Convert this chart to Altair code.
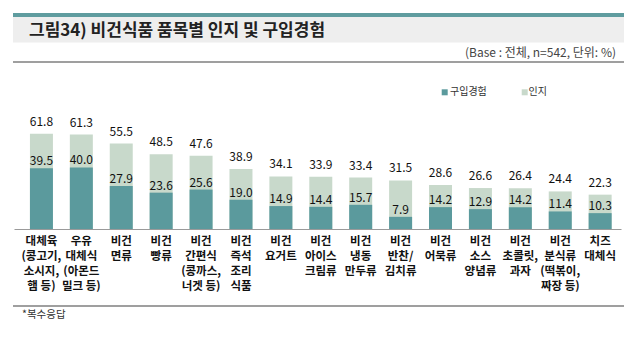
import altair as alt
import pandas as pd

categories = [
    "대체육|(콩고기,|소시지,|햄 등)",
    "우유|대체식|(아몬드|밀크 등)",
    "비건|면류",
    "비건|빵류",
    "비건|간편식|(콩까스,|너겟 등)",
    "비건|즉석|조리|식품",
    "비건|요거트",
    "비건|아이스|크림류",
    "비건|냉동|만두류",
    "비건|반찬/|김치류",
    "비건|어묵류",
    "비건|소스|양념류",
    "비건|초콜릿,|과자",
    "비건|분식류|(떡볶이,|짜장 등)",
    "치즈|대체식",
]
awareness = [61.8, 61.3, 55.5, 48.5, 47.6, 38.9, 34.1, 33.9, 33.4, 31.5, 28.6, 26.6, 26.4, 24.4, 22.3]
purchase = [39.5, 40.0, 27.9, 23.6, 25.6, 19.0, 14.9, 14.4, 15.7, 7.9, 14.2, 12.9, 14.2, 11.4, 10.3]

FONT = "Noto Sans CJK KR"
DARK = "#5b9a9d"
LIGHT = "#c8d9cb"

df = pd.DataFrame({"cat": categories, "aware": awareness, "buy": purchase})

x = alt.X(
    "cat:N",
    sort=categories,
    scale=alt.Scale(paddingInner=0.424, paddingOuter=0.317, align=0.63),
    axis=alt.Axis(
        title=None,
        labelAngle=0,
        labelExpr="split(datum.label, '|')",
        labelFont=FONT,
        labelFontWeight="bold",
        labelFontSize=11.5,
        labelColor="#111111",
        labelLineHeight=15,
        labelPadding=6,
        labelBaseline="top",
        ticks=False,
        domainColor="#9a9a9a",
        domainWidth=1,
        labelOverlap=False,
        labelBound=False,
        labelFlush=False,
    ),
)
yscale = alt.Scale(domain=[0, 100])

base = alt.Chart(df)
light = base.mark_bar(color=LIGHT).encode(x=x, y=alt.Y("aware:Q", scale=yscale, axis=None))
dark = base.mark_bar(color=DARK).encode(x=x, y=alt.Y("buy:Q", scale=yscale, axis=None))
t_aware = base.mark_text(font=FONT, fontSize=12, color="#111111", baseline="bottom", dy=-5).encode(
    x=x, y=alt.Y("aware:Q", scale=yscale, axis=None), text=alt.Text("aware:Q", format=".1f")
)
t_buy = base.mark_text(font=FONT, fontSize=12, color="#111111", baseline="bottom", dy=0).encode(
    x=x, y=alt.Y("buy:Q", scale=yscale, axis=None), text=alt.Text("buy:Q", format=".1f")
)

one = alt.Chart(pd.DataFrame({"a": [0]}))

stripe = one.mark_rect(color="#5f9c9f").encode(
    x=alt.value(-1), x2=alt.value(610), y=alt.value(-62), y2=alt.value(-58)
)
band = one.mark_rect(color="#eeeeee").encode(
    x=alt.value(-1), x2=alt.value(610), y=alt.value(-58), y2=alt.value(-32.5)
)
title = one.mark_text(
    text="그림34) 비건식품 품목별 인지 및 구입경험", font=FONT, fontSize=17, fontWeight="bold",
    color="#222222", align="left", baseline="middle"
).encode(x=alt.value(15), y=alt.value(-44.5))
basetxt = one.mark_text(
    text="(Base : 전체, n=542, 단위: %)", font=FONT, fontSize=12, color="#444444",
    align="right", baseline="middle"
).encode(x=alt.value(602), y=alt.value(-22))
topline = one.mark_rule(color="#404040", strokeWidth=1.2).encode(
    x=alt.value(-1), x2=alt.value(610), y=alt.value(-13)
)
botline = one.mark_rule(color="#404040", strokeWidth=1.2).encode(
    x=alt.value(-1), x2=alt.value(610), y=alt.value(231)
)
foot = one.mark_text(
    text="*복수응답", font=FONT, fontSize=10.5, color="#333333", align="left", baseline="middle"
).encode(x=alt.value(8), y=alt.value(240))

leg_sq1 = one.mark_rect(color=DARK).encode(
    x=alt.value(427.7), x2=alt.value(433.7), y=alt.value(14.3), y2=alt.value(20.3)
)
leg_t1 = one.mark_text(
    text="구입경험", font=FONT, fontSize=10, color="#333333", align="left", baseline="middle"
).encode(x=alt.value(436), y=alt.value(17))
leg_sq2 = one.mark_rect(color=LIGHT).encode(
    x=alt.value(507.7), x2=alt.value(513.7), y=alt.value(14.3), y2=alt.value(20.3)
)
leg_t2 = one.mark_text(
    text="인지", font=FONT, fontSize=10, color="#333333", align="left", baseline="middle"
).encode(x=alt.value(514.5), y=alt.value(17))

chart = alt.layer(
    stripe, band, title, basetxt, topline, botline, foot,
    light, dark, t_aware, t_buy,
    leg_sq1, leg_t1, leg_sq2, leg_t2,
).properties(
    width=607,
    height=154,
    padding={"left": 14, "top": 75, "right": 19, "bottom": 118},
    autosize=alt.AutoSizeParams(type="none"),
    background="white",
).configure_view(stroke=None)

chart.save("out.html", embed_options={"renderer": "svg", "actions": False})
